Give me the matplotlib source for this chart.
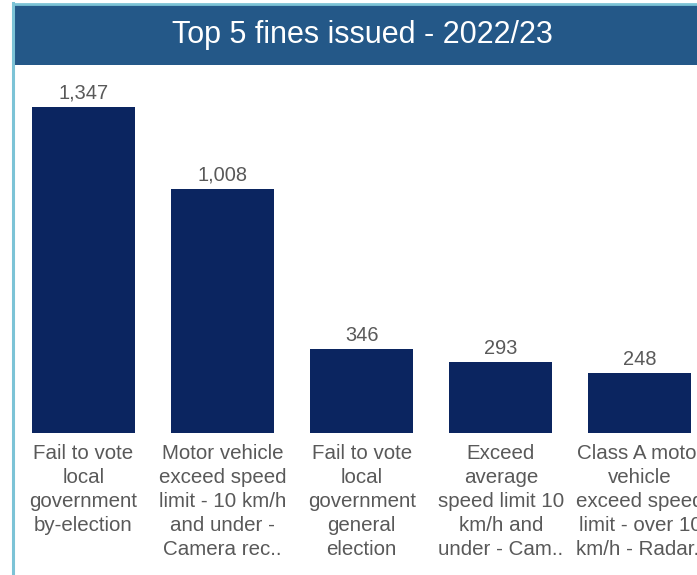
import matplotlib
matplotlib.use("Agg")
import matplotlib.pyplot as plt
from matplotlib.patches import Rectangle
from matplotlib.lines import Line2D

plt.rcParams['font.family'] = ['Liberation Sans', 'DejaVu Sans']

title = "Top 5 fines issued - 2022/23"
categories = [
    "Fail to vote\nlocal\ngovernment\nby-election",
    "Motor vehicle\nexceed speed\nlimit - 10 km/h\nand under -\nCamera rec..",
    "Fail to vote\nlocal\ngovernment\ngeneral\nelection",
    "Exceed\naverage\nspeed limit 10\nkm/h and\nunder - Cam..",
    "Class A motor\nvehicle\nexceed speed\nlimit - over 10\nkm/h - Radar..",
]
values = [1347, 1008, 346, 293, 248]

W, H = 697, 575
fig = plt.figure(figsize=(W / 100, H / 100), dpi=100)
fig.patch.set_facecolor("white")

# header band and border
header_color = "#245888"
border_color = "#7cc3d6"
fig.patches.append(Rectangle((14 / W, (H - 65) / H), 1.0, 60 / H,
                             transform=fig.transFigure, facecolor=header_color,
                             edgecolor="none", zorder=1))
fig.lines.append(Line2D([13.5 / W, 13.5 / W], [0, (H - 3) / H], transform=fig.transFigure,
                        color=border_color, lw=2.2, zorder=2))
fig.lines.append(Line2D([13 / W, 1.0], [(H - 4) / H, (H - 4) / H], transform=fig.transFigure,
                        color=border_color, lw=2.0, zorder=2))
fig.text(362 / W, (H - 35) / H, title, color="white", fontsize=22,
         ha="center", va="center", zorder=3)

# axes
ax_left, ax_right = 14, 709.5
ax_bottom, ax_top = 142, 509
ax = fig.add_axes([ax_left / W, ax_bottom / H, (ax_right - ax_left) / W, (ax_top - ax_bottom) / H])
ax.set_facecolor("none")
x = list(range(len(values)))
bars = ax.bar(x, values, width=0.74, color="#0b2560", zorder=2)
ax.set_xlim(-0.5, 4.5)
ax.set_ylim(0, 1516)
for b, v in zip(bars, values):
    ax.annotate(f"{v:,}", (b.get_x() + b.get_width() / 2, v), xytext=(0, 3),
                textcoords="offset points", ha="center", va="bottom",
                fontsize=14.4, color="#595959")
ax.set_xticks(x)
ax.set_xticklabels(categories, fontsize=14.8, color="#595959", linespacing=1.33)
ax.tick_params(axis="x", length=0, pad=8)
ax.set_yticks([])
for s in ax.spines.values():
    s.set_visible(False)

fig.savefig("out.png", dpi=100)
